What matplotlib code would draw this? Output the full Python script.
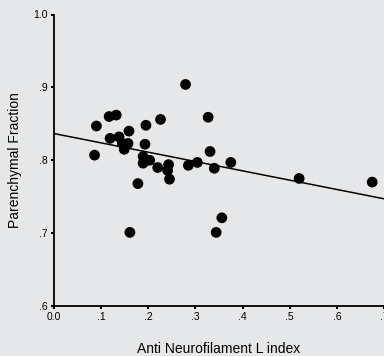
import numpy as np
import matplotlib
matplotlib.use("Agg")
import matplotlib.pyplot as plt

plt.rcParams['font.family'] = ['Liberation Sans', 'DejaVu Sans']

anti_nfl = [0.086, 0.090, 0.117, 0.132, 0.119, 0.138, 0.145, 0.157, 0.149, 0.159,
            0.195, 0.193, 0.226, 0.189, 0.189, 0.203, 0.220, 0.243, 0.241, 0.245,
            0.178, 0.161, 0.279, 0.285, 0.304, 0.327, 0.331, 0.340, 0.375, 0.356,
            0.344, 0.520, 0.675]
parenchymal = [0.807, 0.847, 0.860, 0.862, 0.830, 0.832, 0.823, 0.823, 0.815, 0.840,
               0.848, 0.822, 0.856, 0.805, 0.796, 0.800, 0.790, 0.794, 0.786, 0.774,
               0.768, 0.701, 0.904, 0.793, 0.797, 0.859, 0.812, 0.789, 0.797, 0.721,
               0.701, 0.775, 0.770]
x_ticks = [0.0, 0.1, 0.2, 0.3, 0.4, 0.5, 0.6, 0.7]
x_ticklabels = ['0.0', '.1', '.2', '.3', '.4', '.5', '.6', '.7']
y_ticks = [0.6, 0.7, 0.8, 0.9, 1.0]
y_ticklabels = ['.6', '.7', '.8', '.9', '1.0']

bg = '#e6e7e9'
fig = plt.figure(figsize=(3.84, 3.56), dpi=100, facecolor=bg)
ax = fig.add_axes([54/384, 50/356, 1 - 54/384, (306-14.5)/356])
ax.set_facecolor(bg)

x = np.array(anti_nfl)
y = np.array(parenchymal)
slope, intercept = np.polyfit(x, y, 1)
xl = np.array([0, 0.7])
ax.plot(xl, intercept + slope * xl, color='black', lw=1.1, zorder=2)
ax.scatter(x, y, s=60, color='black', edgecolors='none', zorder=3)

ax.set_xlim(0, (384-54)/477)
ax.set_ylim(0.6, 1.0)
ax.set_xticks(x_ticks)
ax.set_xticklabels(x_ticklabels)
ax.set_yticks(y_ticks)
ax.set_yticklabels(y_ticklabels)
for s in ['top', 'right']:
    ax.spines[s].set_visible(False)
for s in ['left', 'bottom']:
    ax.spines[s].set_linewidth(1.3)
ax.tick_params(direction='out', length=2.5, width=1.5, labelsize=7.5, pad=2)
ax.set_xlabel('Anti Neurofilament L index', fontsize=10, labelpad=14)
ax.set_ylabel('Parenchymal Fraction', fontsize=10, labelpad=8)

fig.savefig('out.png', dpi=100, facecolor=bg)
